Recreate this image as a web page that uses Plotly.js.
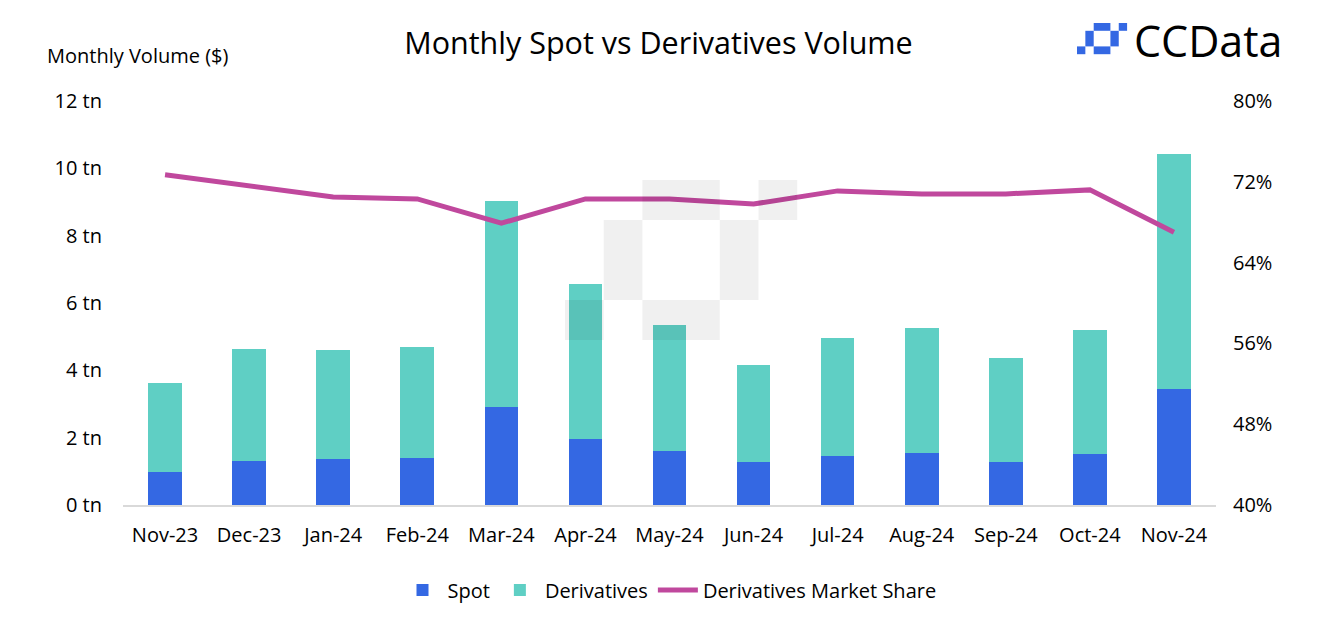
<!DOCTYPE html>
<html>
<head>
<meta charset="utf-8">
<script src="https://cdn.plot.ly/plotly-3.0.1.min.js"></script>
<style>html,body{margin:0;padding:0;background:#fff;}#chart{width:1322px;height:638px;}</style>
</head>
<body>
<div id="chart"></div>
<script>
const months = ["Nov-23","Dec-23","Jan-24","Feb-24","Mar-24","Apr-24","May-24","Jun-24","Jul-24","Aug-24","Sep-24","Oct-24","Nov-24"];
const spotVolume = [0.98, 1.31, 1.37, 1.40, 2.91, 1.96, 1.60, 1.28, 1.46, 1.54, 1.28, 1.51, 3.45];
const derivativesVolume = [2.64, 3.32, 3.23, 3.29, 6.12, 4.60, 3.75, 2.88, 3.50, 3.72, 3.09, 3.69, 6.97];
const derivativesShare = [72.7, 71.6, 70.5, 70.3, 67.9, 70.3, 70.3, 69.8, 71.1, 70.8, 70.8, 71.2, 67.0];
const leftTicks = [0, 2, 4, 6, 8, 10, 12];
const rightTicks = [40, 48, 56, 64, 72, 80];

const W = 1322, H = 638;
const M = {l: 123, r: 106, t: 101, b: 133};
const PW = W - M.l - M.r, PH = H - M.t - M.b;
const FONT = "'Open Sans', 'Noto Sans', sans-serif";

function px(x) { return (x - M.l) / PW; }
function py(y) { return (H - M.b - y) / PH; }
function rect(x0, y0, x1, y1, color, layer) {
  return {type: 'rect', xref: 'paper', yref: 'paper', x0: px(x0), x1: px(x1), y0: py(y1), y1: py(y0),
          fillcolor: color, line: {width: 0}, layer: layer || 'above'};
}
function logoShapes(ox, oy, ux, uy, color, layer) {
  const blocks = [
    [2, 0, 4, 1], [5, 0, 6, 1],
    [1, 1, 2, 3], [4, 1, 5, 3],
    [2, 3, 4, 4], [0, 3, 1, 4]
  ];
  return blocks.map(b => rect(ox + b[0]*ux, oy + b[1]*uy, ox + b[2]*ux, oy + b[3]*uy, color, layer));
}

const shapes = [].concat(
  logoShapes(565, 180, 38.7, 40, 'rgba(0,0,0,0.06)', 'above'),
  logoShapes(1077, 23, 8.35, 7.8, '#3468E3', 'above')
);

const traces = [
  {type: 'bar', name: 'Spot', x: months, y: spotVolume, marker: {color: '#3468E3'}, width: 0.4},
  {type: 'bar', name: 'Derivatives', x: months, y: derivativesVolume, marker: {color: '#5FCFC4'}, width: 0.4},
  {type: 'scatter', mode: 'lines', name: 'Derivatives Market Share', x: months, y: derivativesShare,
   yaxis: 'y2', line: {color: '#C0489D', width: 5}}
];

const layout = {
  width: W, height: H,
  margin: M,
  paper_bgcolor: '#fff', plot_bgcolor: 'rgba(0,0,0,0)',
  font: {family: FONT, color: '#000', size: 20},
  barmode: 'stack',
  showlegend: true,
  legend: {orientation: 'h', x: 0.5, xanchor: 'center', y: py(590), yanchor: 'middle',
           font: {size: 20, family: FONT, color: '#000'}, itemwidth: 40, traceorder: 'normal'},
  title: {text: 'Monthly Spot vs Derivatives Volume', x: 658.5 / W, xanchor: 'center', xref: 'container',
          y: 1 - 43/H, yanchor: 'middle', yref: 'container',
          font: {size: 30.5, family: FONT, color: '#000'}},
  xaxis: {type: 'category', showgrid: false, showline: true, linecolor: '#d9d9d9', linewidth: 2,
          ticks: '', ticklabelstandoff: 11, tickfont: {size: 20, family: FONT}, zeroline: false},
  yaxis: {range: [0, 12], tickvals: leftTicks, ticktext: leftTicks.map(v => v + ' tn'), showgrid: false,
          zeroline: false, showline: false, ticks: '', ticklabelstandoff: 20,
          tickfont: {size: 20, family: FONT}},
  yaxis2: {range: [40, 80], tickvals: rightTicks, ticktext: rightTicks.map(v => v + '%'), overlaying: 'y',
           side: 'right', showgrid: false, zeroline: false, showline: false, ticks: '',
           ticklabelstandoff: 16, tickfont: {size: 20, family: FONT}},
  shapes: shapes,
  annotations: [
    {text: 'Monthly Volume ($)', xref: 'paper', yref: 'paper', x: px(45), y: py(56), xanchor: 'left',
     yanchor: 'middle', showarrow: false, font: {size: 20, family: FONT, color: '#000'}},
    {text: 'CCData', xref: 'paper', yref: 'paper', x: px(1132), y: py(40), xanchor: 'left',
     yanchor: 'middle', showarrow: false, font: {size: 43, family: FONT, color: '#000', weight: 500}}
  ]
};

Plotly.newPlot('chart', traces, layout, {displayModeBar: false, staticPlot: true});
</script>
</body>
</html>
